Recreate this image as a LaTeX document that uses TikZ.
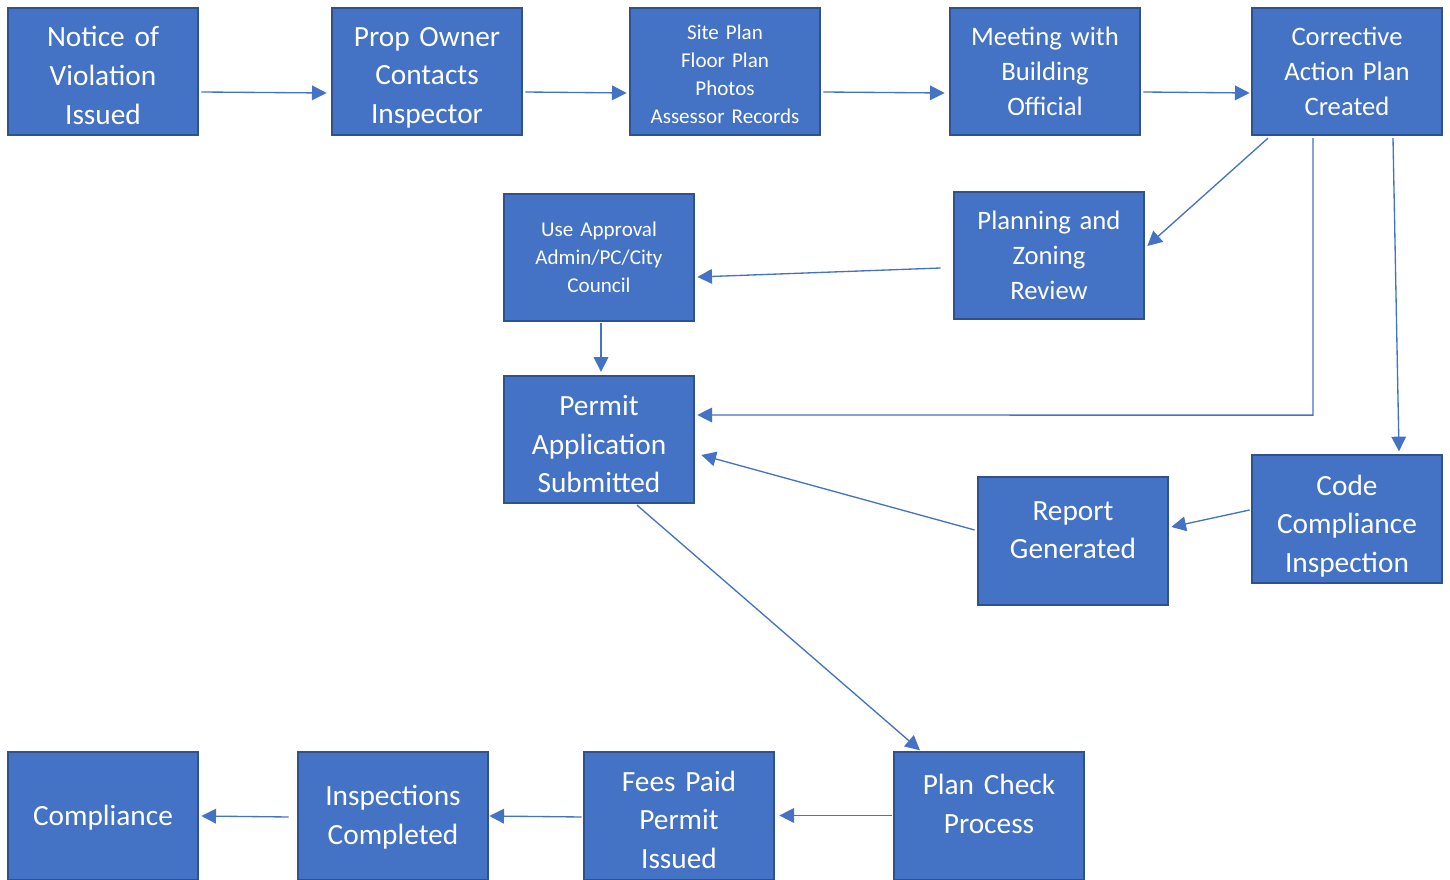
\documentclass[tikz,border=0pt]{standalone}
\usepackage{fontspec}
\setmainfont{Carlito}
\usetikzlibrary{arrows.meta,calc}
\definecolor{boxfill}{HTML}{4472C4}
\definecolor{boxline}{HTML}{2F528F}
\definecolor{conn}{HTML}{4472C4}
\begin{document}
\begin{tikzpicture}[x=0.75pt,y=-0.75pt,
  box/.style={draw=boxline,fill=boxfill,line width=1.5pt,minimum width=143pt,minimum height=95.5pt,inner sep=0pt},
  txt/.style={text=white,align=center,text width=140pt,inner sep=0pt},
  large/.style={txt,font=\fontsize{22}{28.9}\selectfont},
  medium/.style={txt,font=\fontsize{20}{26.25}\selectfont},
  small/.style={txt,font=\fontsize{15.8}{21}\selectfont},
  conn/.style={draw=conn,line width=1pt,-{Triangle[length=11pt,width=11pt]}}]
\useasboundingbox (0,0) rectangle (1450,880);
\node[box,label={[large,yshift=-3pt]center:{Notice of\\Violation\\Issued}}] (n1) at (103,71.5) {};
\node[box,label={[large,yshift=-4.5pt]center:{Prop Owner\\Contacts\\Inspector}}] (n2) at (427,71.5) {};
\node[box,label={[small,yshift=-2.25pt]center:{Site Plan\\Floor Plan\\Photos\\Assessor Records}}] (n3) at (725,71.5) {};
\node[box,label={[medium]center:{Meeting with\\Building\\Official}}] (n4) at (1045,71.5) {};
\node[box,label={[medium]center:{Corrective\\Action Plan\\Created}}] (n5) at (1347,71.5) {};
\node[box,label={[medium]center:{Planning and\\Zoning\\Review}}] (n6) at (1049,255.5) {};
\node[box,label={[small]center:{Use Approval\\Admin/PC/City\\Council}}] (n7) at (599,257.5) {};
\node[box,label={[large,yshift=-3.4pt]center:{Permit\\Application\\Submitted}}] (n8) at (599,439.5) {};
\node[box,label={[large,yshift=-5.25pt]center:{Code\\Compliance\\Inspection}}] (n9) at (1347,519) {};
\node[box,label={[large,yshift=8.25pt]center:{Report\\Generated}}] (n10) at (1073,541) {};
\node[box,label={[large,yshift=9pt]center:{Plan Check\\Process}}] (n11) at (989,816) {};
\node[box,label={[large,yshift=-2.6pt]center:{Fees Paid\\Permit\\Issued}}] (n12) at (679,816) {};
\node[box,label={[large,yshift=-1.1pt]center:{Inspections\\Completed}}] (n13) at (393,816) {};
\node[box,label={[large,yshift=-1.5pt]center:{Compliance}}] (n14) at (103,816) {};
\draw[conn] ($(n1.east)+(2,20.5)$) -- ($(n2.west)+(-4,21.5)$);
\draw[conn] ($(n2.east)+(2,20.5)$) -- ($(n3.west)+(-2,21.5)$);
\draw[conn] ($(n3.east)+(2,20.5)$) -- ($(n4.west)+(-4,21.5)$);
\draw[conn] ($(n4.east)+(2,20.5)$) -- ($(n5.west)+(-1,21.5)$);
\draw[conn] ($(n5.south)+(-79,2)$) -- ($(n6.east)+(2,-9.5)$);
\coordinate (c1) at ($(n5.south)+(-34,279)$);
\draw[conn] ($(n5.south)+(-34,2)$) -- (c1) -- ($(n8.east)+(2,-24.5)$);
\draw[conn] ($(n5.south)+(46,2)$) -- ($(n9.north)+(52,-3)$);
\draw[conn] ($(n6.west)+(-12,12.5)$) -- ($(n7.east)+(2,19.5)$);
\draw[conn] ($(n7.south)+(2,1)$) -- ($(n8.north)+(2,-3)$);
\draw[conn] ($(n9.west)+(-1,-9)$) -- ($(n10.east)+(2,-14)$);
\draw[conn] ($(n10.west)+(-2,-11)$) -- ($(n8.east)+(6,15.5)$);
\draw[conn] ($(n8.south)+(38,1)$) -- ($(n11.north)+(-69,-1)$);
\draw[conn] ($(n11.west)+(-1,-0.5)$) -- ($(n12.east)+(4,-0.5)$);
\draw[conn] ($(n12.west)+(-1,1)$) -- ($(n13.east)+(0,0)$);
\draw[conn] ($(n13.west)+(-8,1)$) -- ($(n14.east)+(2,0)$);
\end{tikzpicture}
\end{document}
